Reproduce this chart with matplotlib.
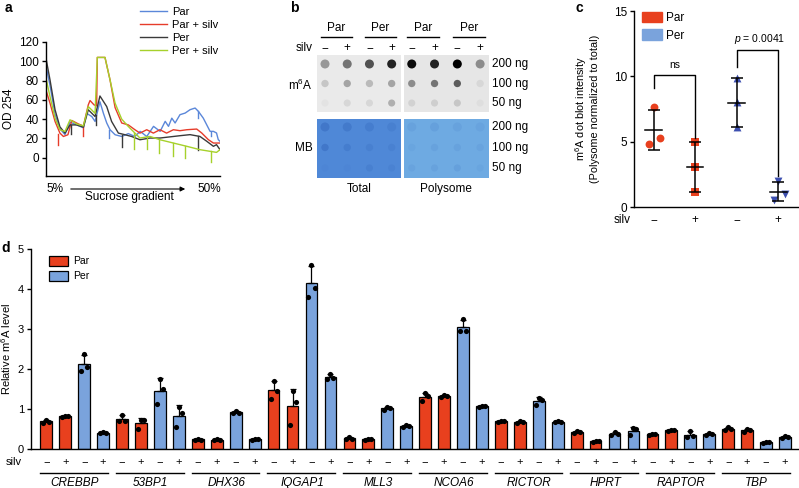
import numpy as np
import matplotlib
matplotlib.use('Agg')
import matplotlib.pyplot as plt
from matplotlib.colors import LinearSegmentedColormap
from matplotlib.lines import Line2D
from matplotlib.patches import Patch, FancyArrowPatch
from matplotlib.transforms import blended_transform_factory

plt.rcParams['font.family'] = ['Liberation Sans', 'DejaVu Sans']
plt.rcParams['mathtext.fontset'] = 'custom'
plt.rcParams['mathtext.rm'] = 'Liberation Sans'
plt.rcParams['mathtext.it'] = 'Liberation Sans:italic'
plt.rcParams['font.size'] = 8
plt.rcParams['axes.linewidth'] = 1.0

W, H = 799, 488
RED = '#e8401e'
BLUE = '#7aa3dc'
NAVY = '#3d4fb0'

# ------------------------------------------------------------------
# Data
# ------------------------------------------------------------------

# a: OD254 polysome profiles (x = position along gradient, 0-100)
par_x = [0, 2.3, 5.2, 8, 10.9, 13.8, 17.6, 21.5, 23.4, 26.3, 28.2, 31, 33, 34.9,
         36.8, 39.7, 43.5, 47.3, 51.1, 54.1, 57.9, 61.8, 65.6, 68.5, 70.4, 72.3,
         74.2, 77, 80, 82.8, 85.7, 87.6, 90.4, 94.3, 96.2, 98, 99, 100]
par_y = [95, 75, 45, 30, 24, 37, 34, 31, 46, 42.7, 37.6, 58, 46, 36,
         29, 23.8, 22, 25, 22, 27.3, 22, 32.5, 27.3, 37.7, 32.5, 41,
         36, 44.6, 46.3, 49.8, 51.5, 48, 41, 27.3, 27.3, 25.6, 18.7, 17]
par_silv_x = [0, 2.3, 5.2, 8, 10, 12.6, 14.8, 18.6, 21.5, 24.3, 25.3, 27.6, 29.1,
              29.5, 33.9, 36.8, 39.7, 43.5, 47.3, 51.1, 54, 57.9, 61.7, 65.5,
              69.3, 73.2, 77, 80.9, 86.6, 89.5, 93.3, 96.2, 100]
par_silv_y = [70, 56.6, 37.6, 25.5, 22, 23.8, 38.6, 35, 32.8, 54.8, 59.3, 54.8, 53.8,
              104, 104, 80.7, 52, 36, 34, 29, 25.5, 29, 25.5, 29,
              25.5, 29, 28, 29, 29.7, 25.6, 18.7, 15.2, 15.2]
per_x = [0, 2.3, 5.2, 8, 10.9, 13.8, 17.6, 21.5, 24.3, 28.2, 31, 34.9, 37.7, 41.6,
         45.4, 49.2, 54, 59.8, 65.5, 73.2, 77, 82.8, 88.5, 92.4, 96.2, 98, 100]
per_y = [103, 80.7, 49.7, 32, 25.5, 34, 34, 31.7, 49.7, 42.7, 64, 53, 37.6, 25.5,
         23.8, 22, 18.6, 20.4, 20.4, 22, 22.8, 23.9, 22, 17, 11.8, 13.5, 8.3]
per_silv_x = [0, 2.3, 5.2, 8, 10.9, 13.8, 17.6, 21.5, 24.3, 26, 28.2, 29.5, 33.9,
              36.8, 39.7, 43.5, 47.3, 51.1, 54, 59.8, 65.5, 73.2, 80.9, 88.5,
              94.3, 98, 100]
per_silv_y = [82.4, 63.4, 41, 29, 27.2, 39.3, 35, 33, 53, 50, 46, 104, 104,
              80.7, 56.6, 40, 32.4, 25.5, 20.4, 22, 18.6, 15.2, 11.8, 8.3,
              6.6, 5.5, 8.3]
# fraction marks (x, top, bottom)
par_ticks = [(36.4, 29, 20.4), (87.6, 48, 41), (94.8, 27, 22)]
par_silv_ticks = [(7.1, 25, 13.4), (21.5, 33, 22.7)]
per_ticks = [(14.4, 34, 24.8), (28.7, 44, 34), (43.5, 24, 11), (87.6, 22, 8.3)]
per_silv_ticks = [(50.8, 26, 9), (57.9, 21, 8.6), (65.2, 18.7, 4.8),
                  (72.8, 15.2, 2), (79.9, 12, 0), (94.8, 6.6, -4.8)]

# b: dot blot signal (0 = none, 1 = black), rows 200/100/50 ng
blot_cols = ['Par', 'Par', 'Per', 'Per']
blot_silv = ['−', '+', '−', '+']
blot_amounts = ['200 ng', '100 ng', '50 ng']
m6a_total = [[0.35, 0.5, 0.65, 0.85],
             [0.15, 0.3, 0.2, 0.3],
             [0.03, 0.08, 0.08, 0.25]]
m6a_poly = [[0.95, 0.85, 1.0, 0.4],
            [0.4, 0.5, 0.6, 0.08],
            [0.1, 0.12, 0.15, 0.05]]
mb_total = [[0.3, 0.25, 0.2, 0.15],
            [0.3, 0.2, 0.15, 0.12],
            [0.05, 0.05, 0.15, 0.1]]
mb_poly = [[0.12, 0.15, 0.12, 0.1],
           [0.08, 0.12, 0.12, 0.1],
           [0.1, 0.12, 0.15, 0.08]]

# c: polysome / total m6A intensity
c_groups = ['Par', 'Par', 'Per', 'Per']
c_silv = ['−', '+', '−', '+']
c_vals = [[7.63, 5.25, 4.8], [4.95, 3.08, 1.12], [9.85, 8.0, 6.13], [2.0, 0.54, 1.0]]

# d: relative m6A level (3 replicates per bar)
genes = ['CREBBP', '53BP1', 'DHX36', 'IQGAP1', 'MLL3',
         'NCOA6', 'RICTOR', 'HPRT', 'RAPTOR', 'TBP']
par_ctrl = [[0.74, 0.69, 0.67], [0.86, 0.72, 0.70], [0.27, 0.24, 0.24],
            [1.72, 1.45, 1.27], [0.30, 0.27, 0.27], [1.40, 1.33, 1.22],
            [0.72, 0.70, 0.68], [0.45, 0.43, 0.42], [0.39, 0.38, 0.37],
            [0.55, 0.51, 0.49]]
par_silv = [[0.84, 0.83, 0.82], [0.74, 0.73, 0.52], [0.26, 0.24, 0.23],
            [1.45, 1.18, 0.62], [0.26, 0.25, 0.24], [1.35, 1.33, 1.32],
            [0.71, 0.68, 0.66], [0.21, 0.20, 0.19], [0.49, 0.48, 0.47],
            [0.50, 0.48, 0.44]]
per_ctrl = [[2.38, 2.07, 1.95], [1.75, 1.50, 1.13], [0.95, 0.92, 0.90],
            [4.62, 4.03, 3.80], [1.06, 1.04, 0.98], [3.25, 2.95, 2.95],
            [1.29, 1.24, 1.11], [0.43, 0.38, 0.37], [0.46, 0.33, 0.30],
            [0.19, 0.18, 0.17]]
per_silv = [[0.43, 0.42, 0.41], [1.07, 0.90, 0.55], [0.26, 0.25, 0.24],
            [1.88, 1.78, 1.75], [0.62, 0.58, 0.57], [1.09, 1.08, 1.07],
            [0.70, 0.69, 0.68], [0.53, 0.52, 0.36], [0.40, 0.39, 0.37],
            [0.33, 0.31, 0.29]]


def px_axes(fig, left, top, right, bottom):
    return fig.add_axes([left / W, 1 - bottom / H, (right - left) / W, (bottom - top) / H])


def ftxt(fig, x, y, s, **kw):
    kw.setdefault('ha', 'center')
    kw.setdefault('va', 'center')
    return fig.text(x / W, 1 - y / H, s, **kw)


fig = plt.figure(figsize=(W / 100, H / 100), dpi=100)

# ------------------------------------------------------------------
# Panel a
# ------------------------------------------------------------------
ax = px_axes(fig, 46, 42, 220, 176)
series = [(par_x, par_y, par_ticks, '#5b87d9', 'Par'),
          (par_silv_x, par_silv_y, par_silv_ticks, '#e63c2a', 'Par + silv'),
          (per_x, per_y, per_ticks, '#3a3a3a', 'Per'),
          (per_silv_x, per_silv_y, per_silv_ticks, '#a6d12b', 'Per + silv')]
handles = []
for xs, ys, ticks, col, lab in series:
    ax.plot(xs, ys, color=col, lw=1.0)
    for tx, top, bot in ticks:
        ax.plot([tx, tx], [top, bot], color=col, lw=1.0)
    handles.append(Line2D([], [], color=col, lw=1.0, label=lab))
ax.set_xlim(0, 100)
ax.set_ylim(-19, 120)
ax.set_yticks(range(0, 121, 20))
ax.set_xticks([])
ax.spines[['top', 'right']].set_visible(False)
ax.tick_params(axis='y', length=3, width=1.0, labelsize=8.5, pad=2)
ax.set_ylabel('OD 254', fontsize=8.5)
ax.yaxis.set_label_coords(-0.178, 0.5)
fig.legend(handles=handles, loc='upper left', bbox_to_anchor=(140 / W, 1 - 7 / H),
           frameon=False, fontsize=8, handlelength=2.4, handletextpad=0.45,
           labelspacing=0.28, borderpad=0, borderaxespad=0)
ftxt(fig, 46, 189, '5%', ha='left', fontsize=8.5)
ftxt(fig, 221, 189, '50%', ha='right', fontsize=8.5)
fig.add_artist(FancyArrowPatch(
    (68 / W, 1 - 189 / H), (188 / W, 1 - 189 / H), transform=fig.transFigure,
    arrowstyle='-|>', mutation_scale=7, lw=0.8, color='black'))
ftxt(fig, 129, 197, 'Sucrose gradient', fontsize=8.5)
ftxt(fig, 8, 8, 'a', fontsize=10, fontweight='bold')

# ------------------------------------------------------------------
# Panel b (dot blot)
# ------------------------------------------------------------------
gray_map = LinearSegmentedColormap.from_list('g', ['#e9e9e9', '#000000'])
mb_map_t = LinearSegmentedColormap.from_list('bt', ['#4f88d7', '#1f4fa8'])
mb_map_p = LinearSegmentedColormap.from_list('bp', ['#6eaae2', '#2f64bb'])
sizes = [42, 28, 26]
blocks = [(317, 55, 401, 112, m6a_total, gray_map, '#eaeaea', (-0.36, 3.42), (2.46, -0.46)),
          (404, 55, 489, 112, m6a_poly, gray_map, '#e6e6e6', (-0.34, 3.39), (2.46, -0.46)),
          (317, 119, 401, 178, mb_total, mb_map_t, '#4f88d7', (-0.36, 3.42), (2.49, -0.39)),
          (404, 119, 489, 178, mb_poly, mb_map_p, '#6eaae2', (-0.34, 3.39), (2.49, -0.39))]
blot_axes = []
for l, t, r, b, sig, cmap, bg, xl, yl in blocks:
    bx = px_axes(fig, l, t, r, b)
    for row, vals in enumerate(sig):
        bx.scatter(range(len(vals)), [row] * len(vals), c=vals, cmap=cmap,
                   vmin=0, vmax=1, s=sizes[row], linewidths=0)
    bx.set_facecolor(bg)
    bx.set_xlim(*xl)
    bx.set_ylim(*yl)
    bx.set_xticks([])
    bx.set_yticks([])
    for s in bx.spines.values():
        s.set_visible(False)
    blot_axes.append(bx)

for bx in blot_axes[:2]:
    tr = blended_transform_factory(bx.transData, fig.transFigure)
    for i, s in enumerate(blot_silv):
        bx.text(i, 1 - 48 / H, s, transform=tr, ha='center', va='center', fontsize=8.5)
    for k in (0, 2):
        bx.text(k + 0.5, 1 - 28 / H, blot_cols[k], transform=tr, ha='center',
                va='center', fontsize=8.5)
        bx.plot([k - 0.2, k + 1.2], [1 - 36.5 / H] * 2, transform=tr, color='black',
                lw=1.0, clip_on=False)
for row, lab in enumerate(blot_amounts):
    ftxt(fig, 492, [64, 84, 103][row], lab, ha='left', fontsize=8.5)
    ftxt(fig, 492, [127, 148, 168][row], lab, ha='left', fontsize=8.5)
ftxt(fig, 313, 48, 'silv', ha='right', fontsize=8.5)
ftxt(fig, 313, 85, r'm$^\mathregular{6}$A', ha='right', fontsize=8.5)
ftxt(fig, 313, 148, 'MB', ha='right', fontsize=8.5)
ftxt(fig, 359, 189, 'Total', fontsize=8.5)
ftxt(fig, 446, 189, 'Polysome', fontsize=8.5)
ftxt(fig, 294, 8, 'b', fontsize=10, fontweight='bold')

# ------------------------------------------------------------------
# Panel c
# ------------------------------------------------------------------
cx = px_axes(fig, 634, 11, 799, 207)
markers = ['o', 's', '^', 'v']
mcolors = [RED, RED, NAVY, NAVY]
jitter = [[0, 0.16, -0.1], [0, 0, 0], [0, 0, 0], [0, -0.1, 0.16]]
for i, vals in enumerate(c_vals):
    xs = [i + j for j in jitter[i]]
    cx.scatter(xs, vals, marker=markers[i], color=mcolors[i], s=32, zorder=2, linewidths=0)
    m = np.mean(vals)
    sd = np.std(vals, ddof=1)
    cx.errorbar(i, m, yerr=sd, fmt='none', ecolor='black', elinewidth=1.1,
                capsize=4, capthick=1.1, zorder=3)
    cx.plot([i - 0.2, i + 0.2], [m, m], color='black', lw=1.1, zorder=3)
cx.plot([0, 0, 1, 1], [9.1, 10.1, 10.1, 5.3], color='black', lw=1.0)
cx.text(0.5, 10.45, 'ns', ha='center', va='bottom', fontsize=7.5)
cx.plot([2, 2, 3, 3], [10.7, 12.0, 12.0, 2.35], color='black', lw=1.0)
cx.text(2.55, 12.35, r'$\mathit{p}$ = 0.0041', ha='center', va='bottom', fontsize=7.5)
cx.set_xlim(-0.47, 3.5)
cx.set_ylim(0, 15)
cx.set_yticks([0, 5, 10, 15])
cx.set_xticks([])
cx.spines[['top', 'right']].set_visible(False)
cx.tick_params(axis='y', length=3, width=1.0, labelsize=8.5, pad=2)
cx.set_ylabel('m$^\\mathregular{6}$A dot blot intensity\n(Polysome normalized to total)',
              fontsize=7.8, linespacing=1.1)
cx.yaxis.set_label_coords(-0.206, 0.5)
trc = blended_transform_factory(cx.transData, cx.transAxes)
for i, s in enumerate(c_silv):
    cx.text(i, -0.066, s, transform=trc, ha='center', va='center', clip_on=False,
            fontsize=8.5)
ftxt(fig, 631, 220, 'silv', ha='right', fontsize=8.5)
fig.legend(handles=[Patch(color=RED, label='Par'), Patch(color=BLUE, label='Per')],
           loc='upper left', bbox_to_anchor=(642 / W, 1 - 12 / H), frameon=False,
           fontsize=8.5, handlelength=1.7, handleheight=0.95, handletextpad=0.3,
           labelspacing=0.45, borderpad=0, borderaxespad=0)
ftxt(fig, 579, 8, 'c', fontsize=10, fontweight='bold')

# ------------------------------------------------------------------
# Panel d
# ------------------------------------------------------------------
dx = px_axes(fig, 31, 249.3, 799, 449.3)
conds = [par_ctrl, par_silv, per_ctrl, per_silv]
ccols = [RED, RED, BLUE, BLUE]
signs = ['−', '+', '−', '+']
offs = [0, 0.16, -0.16]
trd = blended_transform_factory(dx.transData, dx.transAxes)
for g, gene in enumerate(genes):
    for k in range(4):
        pos = g * 4 + k
        vals = conds[k][g]
        m = np.mean(vals)
        sd = np.std(vals, ddof=1)
        dx.bar(pos, m, width=0.62, color=ccols[k], edgecolor='black', lw=0.9, zorder=2)
        dx.errorbar(pos, m, yerr=[[0], [sd]], fmt='none', ecolor='black',
                    elinewidth=0.9, capsize=2.5, capthick=0.9, zorder=3)
        dx.scatter([pos + o for o in offs], vals, color='black', s=14, zorder=4,
                   linewidths=0)
        dx.text(pos, -0.064, signs[k], transform=trd, ha='center', va='center',
                fontsize=8)
    dx.plot([g * 4 - 0.33, g * 4 + 3.25], [-0.117, -0.117], transform=trd,
            color='black', lw=1.0, clip_on=False)
    dx.text(g * 4 + 1.5, -0.17, gene, transform=trd, ha='center', va='center',
            style='italic', fontsize=8.5)
dx.set_xlim(-0.81, 39.74)
dx.set_ylim(0, 5)
dx.set_yticks(range(6))
dx.set_xticks([])
dx.spines[['top', 'right']].set_visible(False)
dx.tick_params(axis='y', length=3, width=1.0, labelsize=8, pad=2)
dx.set_ylabel(r'Relative m$^\mathregular{6}$A level', fontsize=8)
dx.yaxis.set_label_coords(-0.0234, 0.5)
ftxt(fig, 22, 462, 'silv', ha='right', fontsize=8)
fig.legend(handles=[Patch(facecolor=RED, edgecolor='black', lw=0.9, label='Par'),
                    Patch(facecolor=BLUE, edgecolor='black', lw=0.9, label='Per')],
           loc='upper left', bbox_to_anchor=(49 / W, 1 - 256 / H), frameon=False,
           fontsize=7.5, handlelength=1.8, handleheight=1.05, handletextpad=0.5,
           labelspacing=0.45, borderpad=0, borderaxespad=0)
ftxt(fig, 6, 248, 'd', fontsize=10, fontweight='bold')

fig.savefig('out.png', dpi=100)
